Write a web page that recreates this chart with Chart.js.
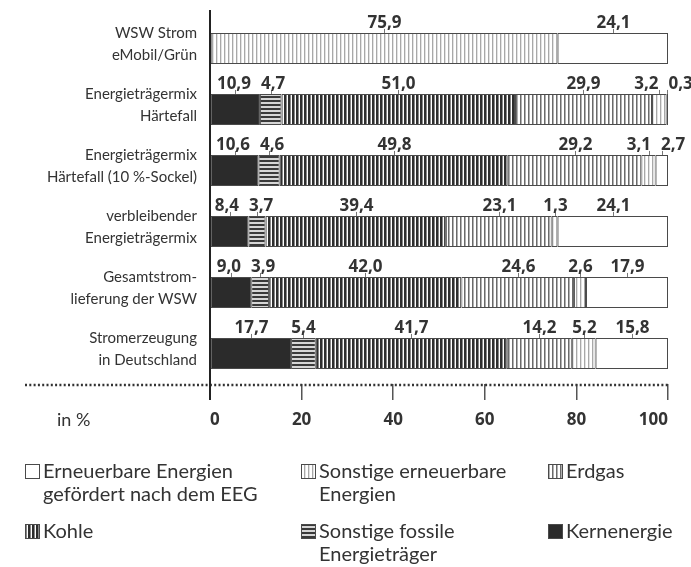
<!DOCTYPE html>
<html>
<head>
<meta charset="utf-8">
<script src="https://cdn.jsdelivr.net/npm/chart.js@4/dist/chart.umd.min.js"></script>
<style>
  html, body { margin: 0; padding: 0; background: #fff; }
  #wrap { width: 691px; height: 567px; }
</style>
</head>
<body>
<div id="wrap"><canvas id="chart"></canvas></div>
<script>
// categories, top to bottom
var categories = [
	[ 'WSW Strom', 'eMobil/Grün' ],
	[ 'Energieträgermix', 'Härtefall' ],
	[ 'Energieträgermix', 'Härtefall (10\u202F%-Sockel)' ],
	[ 'verbleibender', 'Energieträgermix' ],
	[ 'Gesamtstrom-', 'lieferung der WSW' ],
	[ 'Stromerzeugung', 'in Deutschland' ]
];

// shares in %, stacked left to right
var kernenergie         = [ null, 10.9, 10.6, 8.4, 9.0, 17.7 ];
var sonstigeFossile     = [ null, 4.7, 4.6, 3.7, 3.9, 5.4 ];
var kohle               = [ null, 51.0, 49.8, 39.4, 42.0, 41.7 ];
var erdgas              = [ null, 29.9, 29.2, 23.1, 24.6, 14.2 ];
var sonstigeErneuerbare = [ 75.9, 3.2, 3.1, 1.3, 2.6, 5.2 ];
var eegGefoerdert       = [ 24.1, 0.3, 2.7, 24.1, 17.9, 15.8 ];

var xTicks = [ 0, 20, 40, 60, 80, 100 ];

var legendNames = {
	eeg: [ 'Erneuerbare Energien', 'gefördert nach dem EEG' ],
	sonstEE: [ 'Sonstige erneuerbare', 'Energien' ],
	erdgas: [ 'Erdgas' ],
	kohle: [ 'Kohle' ],
	fossil: [ 'Sonstige fossile', 'Energieträger' ],
	kern: [ 'Kernenergie' ]
};

( function () {
	'use strict';

	var TEXT = '#333';
	var EDGE = '#4a4a4a';
	var SANS = 'Lato, "Liberation Sans", sans-serif';
	var BOLD = '"Noto Sans", sans-serif';

	function makePattern( w, h, paint ) {
		var c = document.createElement( 'canvas' );
		c.width = w;
		c.height = h;
		var g = c.getContext( '2d' );
		g.fillStyle = '#fff';
		g.fillRect( 0, 0, w, h );
		paint( g );
		return c.getContext( '2d' ).createPattern( c, 'repeat' );
	}

	var fills = {
		kern: '#2b2b2b',
		fossil: makePattern( 4, 4, function ( g ) {
			g.fillStyle = '#d6d6d6'; g.fillRect( 0, 0, 4, 4 );
			g.fillStyle = '#3a3a3a'; g.fillRect( 0, 0, 4, 2 );
		} ),
		kohle: makePattern( 4, 4, function ( g ) {
			g.fillStyle = '#2e2e2e'; g.fillRect( 0, 0, 2, 4 );
			g.fillStyle = '#888'; g.fillRect( 2, 0, 1, 4 );
		} ),
		erdgas: makePattern( 4, 4, function ( g ) {
			g.fillStyle = '#6a6a6a'; g.fillRect( 0, 0, 1, 4 );
			g.fillStyle = '#b0b0b0'; g.fillRect( 1, 0, 1, 4 );
		} ),
		sonstEE: makePattern( 4, 4, function ( g ) {
			g.fillStyle = '#a8a8a8'; g.fillRect( 0, 0, 1, 4 );
			g.fillStyle = '#e2e2e2'; g.fillRect( 1, 0, 1, 4 );
		} ),
		eeg: '#fff'
	};

	function ds( key, values ) {
		return {
			key: key,
			data: values,
			backgroundColor: fills[ key ],
			borderColor: EDGE,
			borderWidth: 1,
			borderSkipped: false,
			categoryPercentage: 1,
			barPercentage: 0.51
		};
	}

	// value labels with small marker ticks above each segment,
	// crowded labels are pushed apart
	var valueLabels = {
		id: 'valueLabels',
		afterDatasetsDraw: function ( chart ) {
			var ctx = chart.ctx;
			var rows = categories.map( function () { return []; } );
			ctx.save();
			ctx.font = 'bold 17px ' + BOLD;
			chart.data.datasets.forEach( function ( set, i ) {
				chart.getDatasetMeta( i ).data.forEach( function ( bar, j ) {
					var v = set.data[ j ];
					if ( v === null || v === undefined ) {
						return;
					}
					var text = v.toFixed( 1 ).replace( '.', ',' );
					var cx = Math.round( ( bar.x + bar.base ) / 2 ) + 0.5;
					rows[ j ].push( {
						text: text,
						tick: cx,
						x: cx,
						w: ctx.measureText( text ).width,
						top: bar.y - bar.height / 2
					} );
				} );
			} );

			rows.forEach( function ( row ) {
				for ( var pass = 0; pass < 4; pass++ ) {
					for ( var k = 0; k < row.length - 1; k++ ) {
						var a = row[ k ], b = row[ k + 1 ];
						var over = ( a.x + a.w / 2 + 10 ) - ( b.x - b.w / 2 );
						if ( over > 0 ) {
							a.x -= over / 2;
							b.x += over / 2;
						}
					}
				}
				row.forEach( function ( l ) {
					ctx.strokeStyle = '#777';
					ctx.lineWidth = 1;
					ctx.beginPath();
					ctx.moveTo( l.tick, l.top - 4 );
					ctx.lineTo( l.tick, l.top );
					ctx.stroke();
					ctx.fillStyle = TEXT;
					ctx.textAlign = 'center';
					ctx.textBaseline = 'alphabetic';
					ctx.fillText( l.text, l.x, l.top - 5 );
				} );
			} );
			ctx.restore();
		}
	};

	// axis line, dotted baseline, unit and legend
	var decorations = {
		id: 'decorations',
		afterDraw: function ( chart ) {
			var ctx = chart.ctx;
			var area = chart.chartArea;
			var x0 = Math.round( chart.scales.x.getPixelForValue( 0 ) );
			ctx.save();

			ctx.strokeStyle = TEXT;
			ctx.lineWidth = 2.5;
			ctx.setLineDash( [ 2, 2.3 ] );
			ctx.beginPath();
			ctx.moveTo( 25, area.bottom + 1 );
			ctx.lineTo( area.right, area.bottom + 1 );
			ctx.stroke();
			ctx.setLineDash( [] );

			ctx.strokeStyle = '#222';
			ctx.lineWidth = 2;
			ctx.beginPath();
			ctx.moveTo( x0, area.top - 8 );
			ctx.lineTo( x0, area.bottom + 16 );
			ctx.stroke();

			ctx.fillStyle = TEXT;
			ctx.font = '18px ' + SANS;
			ctx.textAlign = 'left';
			ctx.textBaseline = 'middle';
			ctx.fillText( 'in %', 57, 420 );

			var items = [
				[ 'eeg', 25, 472 ], [ 'sonstEE', 301, 472 ], [ 'erdgas', 548, 472 ],
				[ 'kohle', 25, 532 ], [ 'fossil', 301, 532 ], [ 'kern', 548, 532 ]
			];
			ctx.font = '20px ' + SANS;
			items.forEach( function ( it ) {
				var key = it[ 0 ], bx = it[ 1 ], by = it[ 2 ];
				ctx.fillStyle = fills[ key ];
				ctx.fillRect( bx, by - 8, 15, 15 );
				ctx.strokeStyle = EDGE;
				ctx.lineWidth = 1;
				ctx.strokeRect( bx + 0.5, by - 7.5, 14, 14 );
				ctx.fillStyle = TEXT;
				legendNames[ key ].forEach( function ( line, k ) {
					ctx.fillText( line, bx + 18, by + k * 23 );
				} );
			} );
			ctx.restore();
		}
	};

	function init() {
		var canvas = document.getElementById( 'chart' );

		// eslint-disable-next-line no-new
		new Chart( canvas.getContext( '2d' ), {
			type: 'bar',
			data: {
				labels: categories,
				datasets: [
					ds( 'kern', kernenergie ),
					ds( 'fossil', sonstigeFossile ),
					ds( 'kohle', kohle ),
					ds( 'erdgas', erdgas ),
					ds( 'sonstEE', sonstigeErneuerbare ),
					ds( 'eeg', eegGefoerdert )
				]
			},
			options: {
				indexAxis: 'y',
				responsive: true,
				maintainAspectRatio: false,
				animation: false,
				layout: { padding: { top: 18, right: 23, bottom: 133, left: 0 } },
				plugins: {
					legend: { display: false },
					tooltip: { enabled: false }
				},
				scales: {
					x: {
						type: 'linear',
						stacked: true,
						min: 0,
						max: 100,
						afterBuildTicks: function ( scale ) {
							scale.ticks = xTicks.map( function ( v ) { return { value: v }; } );
						},
						afterFit: function ( scale ) {
							scale.height = 50;
							scale.paddingLeft = 0;
							scale.paddingRight = 0;
						},
						border: { display: false },
						grid: {
							drawOnChartArea: false,
							drawTicks: true,
							tickLength: 16,
							color: '#555',
							lineWidth: 1.5
						},
						ticks: {
							padding: 10,
							align: 'inner',
							color: TEXT,
							font: { family: BOLD, size: 17, weight: 'bold' }
						}
					},
					y: {
						type: 'category',
						stacked: true,
						afterFit: function ( scale ) {
							scale.width = 210;
							scale.paddingTop = 0;
							scale.paddingBottom = 0;
						},
						border: { display: false },
						grid: { display: false, drawTicks: false },
						ticks: {
							autoSkip: false,
							padding: 13,
							labelOffset: -4,
							color: TEXT,
							font: { family: SANS, size: 15, lineHeight: 1.45 }
						}
					}
				}
			},
			plugins: [ valueLabels, decorations ]
		} );
	}

	if ( document.readyState === 'loading' ) {
		document.addEventListener( 'DOMContentLoaded', init );
	} else {
		init();
	}
} )();
</script>
</body>
</html>
